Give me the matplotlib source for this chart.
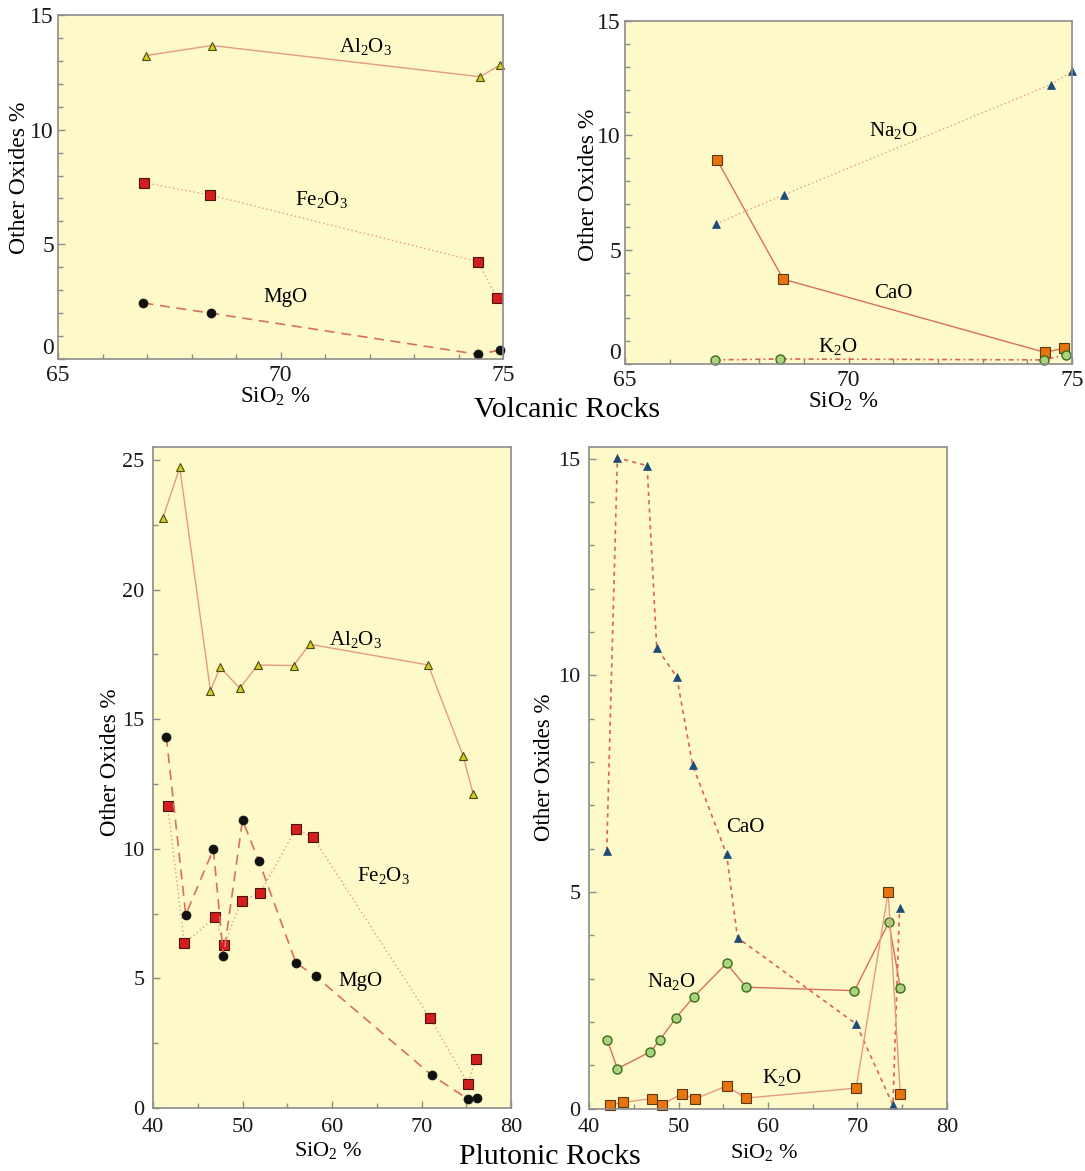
import matplotlib
matplotlib.use("Agg")
import matplotlib.pyplot as plt
from matplotlib.ticker import MultipleLocator

plt.rcParams["font.family"] = ["Liberation Serif", "DejaVu Serif"]
plt.rcParams["mathtext.fontset"] = "custom"
plt.rcParams["mathtext.rm"] = "Liberation Serif"
plt.rcParams["mathtext.it"] = "Liberation Serif:italic"
plt.rcParams["mathtext.default"] = "rm"

# ---- Volcanic rocks: SiO2 (%) and other oxides (%) ----
volc_al_sio2 = [66.98, 68.45, 74.48, 74.94]
volc_al2o3 = [13.23, 13.67, 12.31, 12.82]
volc_fe_sio2 = [66.94, 68.42, 74.44, 74.87]
volc_fe2o3 = [7.69, 7.15, 4.24, 2.64]
volc_mg_sio2 = [66.92, 68.43, 74.44, 74.94]
volc_mgo = [2.44, 2.00, 0.20, 0.39]

volc_na_sio2 = [67.04, 68.56, 74.53, 75.00]
volc_na2o = [6.13, 7.41, 12.22, 12.80]
volc_ca_sio2 = [67.06, 68.54, 74.39, 74.83]
volc_cao = [8.92, 3.71, 0.51, 0.69]
volc_k_sio2 = [67.02, 68.46, 74.38, 74.86]
volc_k2o = [0.18, 0.22, 0.18, 0.41]

# ---- Plutonic rocks ----
plut_al_sio2 = [41.12, 42.99, 46.42, 47.50, 49.70, 51.68, 55.71, 57.50, 70.75, 74.66, 75.78]
plut_al2o3 = [22.78, 24.71, 16.10, 17.00, 16.19, 17.09, 17.07, 17.89, 17.09, 13.58, 12.10]
plut_mg_sio2 = [41.49, 43.66, 46.75, 47.87, 50.00, 51.83, 55.97, 58.17, 71.16, 75.22, 76.23]
plut_mgo = [14.32, 7.46, 9.98, 5.85, 11.10, 9.53, 5.60, 5.08, 1.26, 0.34, 0.40]
plut_fe_sio2 = [41.64, 43.51, 46.98, 47.91, 49.89, 51.98, 55.97, 57.87, 70.93, 75.22, 76.04]
plut_fe2o3 = [11.65, 6.36, 7.37, 6.27, 8.00, 8.30, 10.77, 10.45, 3.48, 0.94, 1.89]

plut_ca_sio2 = [41.98, 43.17, 46.49, 47.57, 49.81, 51.57, 55.37, 56.60, 69.85, 73.96, 74.70]
plut_cao = [5.95, 15.02, 14.84, 10.63, 9.96, 7.93, 5.87, 3.94, 1.95, 0.08, 4.63]
plut_na_sio2 = [42.05, 43.17, 46.87, 47.91, 49.74, 51.72, 55.37, 57.57, 69.66, 73.51, 74.78]
plut_na2o = [1.58, 0.92, 1.31, 1.58, 2.10, 2.58, 3.35, 2.80, 2.72, 4.30, 2.78]
plut_k_sio2 = [42.35, 43.81, 47.01, 48.13, 50.37, 51.83, 55.37, 57.50, 69.85, 73.43, 74.78]
plut_k2o = [0.08, 0.14, 0.23, 0.09, 0.34, 0.22, 0.52, 0.24, 0.47, 5.00, 0.33]

W, H = 1085, 1171
BG = "#fef9c8"
SPINE = "#8c8c8c"
LINE = "#e49a84"
LINE_DARK = "#d8705c"
LINE_RED = "#dc6258"

fig = plt.figure(figsize=(W / 100, H / 100), dpi=100)


def make_axes(left, right, top, bottom):
    return fig.add_axes([left / W, 1 - bottom / H, (right - left) / W, (bottom - top) / H])


def style_axes(ax, xlim, ylim, xmaj, xmin, ymaj, ymin, fs, xpad, ypad):
    ax.set_facecolor(BG)
    ax.set_xlim(*xlim)
    ax.set_ylim(*ylim)
    ax.xaxis.set_major_locator(MultipleLocator(xmaj))
    ax.xaxis.set_minor_locator(MultipleLocator(xmin))
    ax.yaxis.set_major_locator(MultipleLocator(ymaj))
    ax.yaxis.set_minor_locator(MultipleLocator(ymin))
    for s in ax.spines.values():
        s.set_color(SPINE)
        s.set_linewidth(1.2)
    ax.tick_params(which="both", direction="in", color=SPINE, width=1.0,
                   labelsize=fs, labelcolor="#1a1a1a")
    ax.tick_params(which="major", length=5)
    ax.tick_params(which="minor", length=3.5)
    ax.tick_params(axis="x", which="both", pad=xpad)
    ax.tick_params(axis="y", which="both", pad=ypad)


def labels(ax, xl, yl, fs):
    ax.set_xlabel("SiO$_2$ %", fontsize=fs, va="center")
    ax.xaxis.set_label_coords(*xl)
    ax.set_ylabel("Other Oxides %", fontsize=fs + 0.5, va="center")
    ax.yaxis.set_label_coords(*yl)


tri_yellow = dict(marker="^", ms=5.5, mfc="#d6cc1e", mec="#4a4a14", mew=0.8)
sq_red = dict(marker="s", ms=6.5, mfc="#d41e1e", mec="#4a1414", mew=0.8)
dot_black = dict(marker="o", ms=6.5, mfc="#111111", mec="#111111", mew=0.5)
tri_blue = dict(marker="^", ms=6, mfc="#1d4c78", mec="#1d4c78", mew=0.5)
sq_orange = dict(marker="s", ms=7, mfc="#e8740e", mec="#5a3a14", mew=0.8)
dot_green = dict(marker="o", ms=6.5, mfc="#a9d67a", mec="#3d6a22", mew=1.0)

# ---------- Volcanic: Al2O3, Fe2O3, MgO ----------
ax1 = make_axes(58, 503, 15, 359)
style_axes(ax1, (65, 75), (0, 15), 5, 1, 5, 1, 17, 4, 3)
ax1.plot(volc_al_sio2, volc_al2o3, ls="-", lw=1.0, color=LINE, clip_on=False, **tri_yellow)
ax1.plot(volc_fe_sio2, volc_fe2o3, ls=(0, (1, 2)), lw=1.0, color=LINE, clip_on=False, **sq_red)
ax1.plot(volc_mg_sio2, volc_mgo, ls=(0, (6, 4)), lw=1.2, color=LINE_DARK, clip_on=False, **dot_black)
ax1.text(71.91, 13.64, "Al$_2$O$_3$", fontsize=15, ha="center", va="center")
ax1.text(70.92, 6.97, "Fe$_2$O$_3$", fontsize=15, ha="center", va="center")
ax1.text(70.10, 2.66, "MgO", fontsize=15, ha="center", va="center")
labels(ax1, (0.487, -0.110), (-0.086, 0.526), 16.5)

# ---------- Volcanic: Na2O, CaO, K2O ----------
ax2 = make_axes(625, 1072, 21, 364)
style_axes(ax2, (65, 75), (0, 15), 5, 1, 5, 1, 17, 4, 3)
ax2.plot(volc_na_sio2, volc_na2o, ls=(0, (1, 2)), lw=1.0, color=LINE, clip_on=False, **tri_blue)
ax2.plot(volc_ca_sio2, volc_cao, ls="-", lw=1.0, color=LINE_DARK, clip_on=False, **sq_orange)
ax2.plot(volc_k_sio2, volc_k2o, ls=(0, (3, 2, 1, 2)), lw=1.2, color=LINE_RED, clip_on=False, **dot_green)
ax2.text(71.0, 10.19, "Na$_2$O", fontsize=15, ha="center", va="center")
ax2.text(71.0, 3.07, "CaO", fontsize=15, ha="center", va="center")
ax2.text(69.76, 0.76, "K$_2$O", fontsize=15, ha="center", va="center")
labels(ax2, (0.488, -0.110), (-0.082, 0.522), 16.5)

fig.text(567 / W, 1 - 410 / H, "Volcanic Rocks", fontsize=21.5, ha="center", va="center")

# ---------- Plutonic: Al2O3, Fe2O3, MgO ----------
ax3 = make_axes(153, 511, 447, 1108)
style_axes(ax3, (40, 80), (0, 25.5), 10, 5, 5, 2.5, 16, 7, 6)
ax3.plot(plut_al_sio2, plut_al2o3, ls="-", lw=1.0, color=LINE, clip_on=False, **tri_yellow)
ax3.plot(plut_fe_sio2, plut_fe2o3, ls=(0, (1, 2)), lw=1.0, color=LINE, clip_on=False, **sq_red)
ax3.plot(plut_mg_sio2, plut_mgo, ls=(0, (6, 4)), lw=1.2, color=LINE_DARK, clip_on=False, **dot_black)
ax3.text(62.57, 18.07, "Al$_2$O$_3$", fontsize=15, ha="center", va="center")
ax3.text(65.75, 8.97, "Fe$_2$O$_3$", fontsize=15, ha="center", va="center")
ax3.text(63.2, 4.87, "MgO", fontsize=15, ha="center", va="center")
labels(ax3, (0.49, -0.065), (-0.118, 0.523), 16)

# ---------- Plutonic: CaO, Na2O, K2O ----------
ax4 = make_axes(589, 947, 447, 1108.5)
style_axes(ax4, (40, 80), (0, 15.27), 10, 5, 5, 1, 16, 7, 6)
ax4.plot(plut_ca_sio2, plut_cao, ls=(0, (2.5, 2.5)), lw=1.2, color=LINE_RED, clip_on=False, **tri_blue)
ax4.plot(plut_na_sio2, plut_na2o, ls="-", lw=1.0, color=LINE_DARK, clip_on=False, **dot_green)
ax4.plot(plut_k_sio2, plut_k2o, ls="-", lw=1.0, color=LINE, clip_on=False, **sq_orange)
ax4.text(57.43, 6.49, "CaO", fontsize=15, ha="center", va="center")
ax4.text(49.22, 2.93, "Na$_2$O", fontsize=15, ha="center", va="center")
ax4.text(61.53, 0.72, "K$_2$O", fontsize=15, ha="center", va="center")
labels(ax4, (0.49, -0.066), (-0.123, 0.516), 16)

fig.text(549.5 / W, 1 - 1157 / H, "Plutonic Rocks", fontsize=21.5, ha="center", va="center")

# lift the zero label of the upper panels clear of the first x tick label
fig.canvas.draw()
for ax in (ax1, ax2):
    for tick in ax.yaxis.get_major_ticks():
        if abs(tick.get_loc()) < 1e-9:
            tick.label1.set_va("bottom")

fig.savefig("out.png", dpi=100, facecolor="white")
